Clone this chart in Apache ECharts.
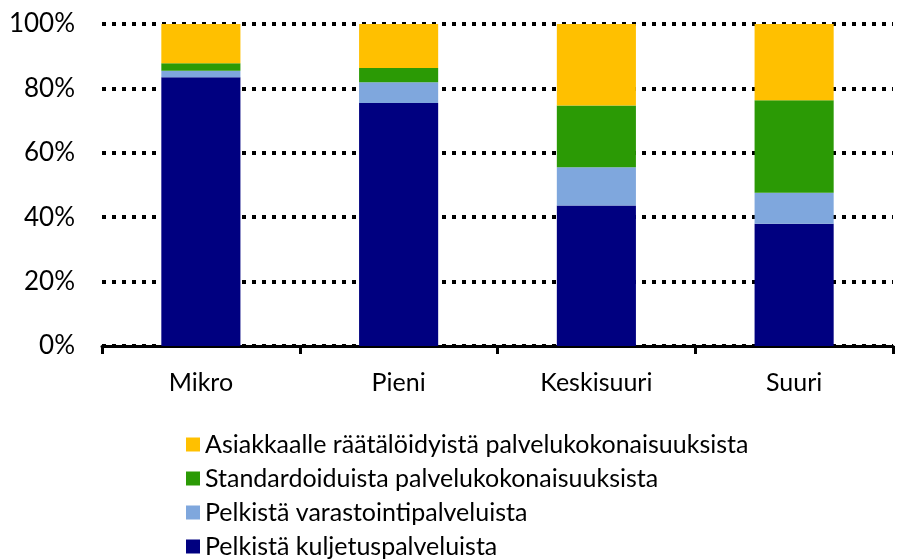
<!DOCTYPE html>
<html>
<head>
<meta charset="utf-8">
<script src="https://cdn.jsdelivr.net/npm/echarts@6/dist/echarts.min.js"></script>
<style>
  html, body { margin: 0; padding: 0; background: #fff; }
  #chart { width: 901px; height: 560px; }
</style>
</head>
<body>
<div id="chart"></div>
<script>
// kategoriat ja osuudet (%)
var categories = ['Mikro', 'Pieni', 'Keskisuuri', 'Suuri'];
var seriesNames = [
    'Pelkistä kuljetuspalveluista',
    'Pelkistä varastointipalveluista',
    'Standardoiduista palvelukokonaisuuksista',
    'Asiakkaalle räätälöidyistä palvelukokonaisuuksista'
];
var kuljetus = [83.5, 75.5, 43.6, 38.0];
var varastointi = [2.0, 6.4, 11.9, 9.6];
var standardi = [2.3, 4.4, 19.2, 28.7];
var raataloity = [12.2, 13.7, 25.3, 23.7];
var yTicks = [0, 20, 40, 60, 80, 100];

var colors = ['#000080', '#7fa7dd', '#2b9a05', '#ffc000'];
var font = 'Lato, "Open Sans", sans-serif';

var chart = echarts.init(document.getElementById('chart'));
var values = [kuljetus, varastointi, standardi, raataloity];

var series = seriesNames.map(function (name, i) {
    return {
        name: name,
        type: 'bar',
        stack: 'total',
        barWidth: '40%',
        data: values[i],
        itemStyle: { color: colors[i] }
    };
});

var option = {
    animation: false,
    textStyle: { fontFamily: font },
    grid: {
        left: 102,
        right: 8,
        top: 24,
        bottom: 214
    },
    legend: {
        orient: 'vertical',
        left: 181,
        top: 427,
        height: 200,
        itemWidth: 14,
        itemHeight: 14,
        itemGap: 9,
        icon: 'rect',
        // legendan järjestys ylhäältä alas
        data: seriesNames.slice().reverse(),
        textStyle: { fontSize: 25, color: '#000', fontFamily: font }
    },
    xAxis: {
        type: 'category',
        data: categories,
        axisLine: { lineStyle: { color: '#000', width: 3 } },
        axisTick: { show: true, length: 8, lineStyle: { color: '#000', width: 3 } },
        axisLabel: { fontSize: 25, color: '#000', margin: 24, fontFamily: font }
    },
    yAxis: {
        type: 'value',
        min: yTicks[0],
        max: yTicks[yTicks.length - 1],
        interval: 20,
        axisLine: { show: false },
        axisTick: { show: false },
        axisLabel: {
            formatter: '{value}%',
            fontSize: 26,
            color: '#000',
            margin: 27,
            fontFamily: font
        },
        splitLine: {
            lineStyle: { color: '#000', width: 4, type: [4, 6] }
        }
    },
    series: series
};
chart.setOption(option);
window.onresize = chart.resize;
</script>
</body>
</html>
